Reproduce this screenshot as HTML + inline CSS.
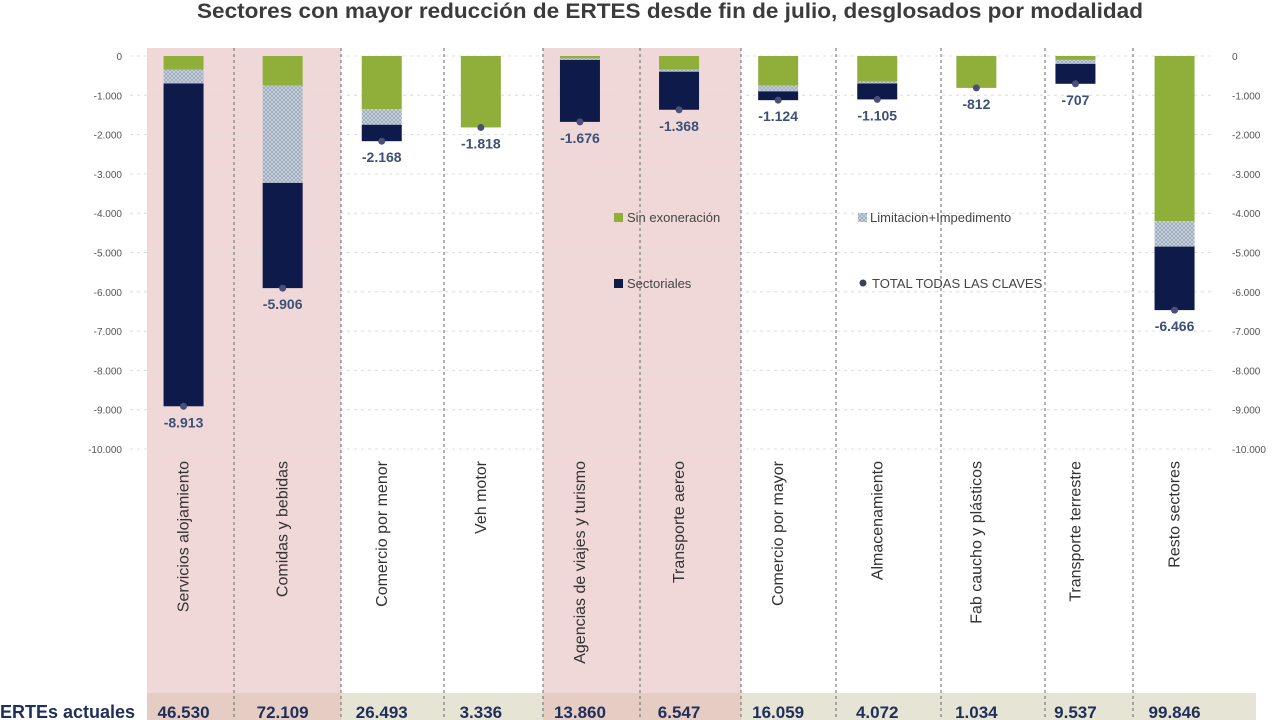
<!DOCTYPE html>
<html><head><meta charset="utf-8"><style>
html,body{margin:0;padding:0;background:#fff;width:1280px;height:720px;overflow:hidden;font-family:"Liberation Sans",sans-serif}
</style></head><body>
<svg id="chart" width="1280" height="720" xmlns="http://www.w3.org/2000/svg">
<defs>
<pattern id="hatch" width="4" height="4" patternUnits="userSpaceOnUse">
<rect width="4" height="4" fill="#c9d2dc"/>
<path d="M0,4 L4,0 M0,0 L4,4" stroke="#8a9bb0" stroke-width="0.6"/>
</pattern>
</defs>
<text x="197" y="18" textLength="946" lengthAdjust="spacingAndGlyphs" font-size="21" font-weight="bold" fill="#3b3b3b">Sectores con mayor reducción de ERTES desde fin de julio, desglosados por modalidad</text>
<g id="bg"></g><g id="grid"></g><g id="bars"></g><g id="labels"></g>
<g font-size="13" fill="#444">
<rect x="614" y="213" width="9" height="9" fill="#8faf3a"/>
<text x="627" y="222">Sin exoneración</text>
<rect x="858" y="213" width="9" height="9" fill="url(#hatch)"/>
<text x="870" y="222">Limitacion+Impedimento</text>
<rect x="614" y="279" width="9" height="9" fill="#0d1a4a"/>
<text x="627" y="288">Sectoriales</text>
<circle cx="863" cy="283" r="3.5" fill="#3a4060"/>
<text x="872" y="288">TOTAL TODAS LAS CLAVES</text>
</g>
<text x="0" y="718" font-size="18" font-weight="bold" fill="#1f2f5a">ERTEs actuales</text>
</svg>
<script>
const categories=["Servicios alojamiento","Comidas y bebidas","Comercio por menor","Veh motor","Agencias de viajes y turismo","Transporte aereo","Comercio por mayor","Almacenamiento","Fab caucho y plásticos","Transporte terrestre","Resto sectores"];
const sinExoneracion=[-350,-750,-1350,-1818,-60,-350,-750,-650,-812,-100,-4200];
const limitacion=[-350,-2480,-400,0,-40,-50,-150,-50,0,-100,-650];
const sectoriales=[-8213,-2676,-418,0,-1576,-968,-224,-405,0,-507,-1616];
const totals=[-8913,-5906,-2168,-1818,-1676,-1368,-1124,-1105,-812,-707,-6466];
const totalLabels=["-8.913","-5.906","-2.168","-1.818","-1.676","-1.368","-1.124","-1.105","-812","-707","-6.466"];
const ertesActuales=["46.530","72.109","26.493","3.336","13.860","6.547","16.059","4.072","1.034","9.537","99.846"];
const yTicks=[0,-1000,-2000,-3000,-4000,-5000,-6000,-7000,-8000,-9000,-10000];
const yTickLabels=["0","-1.000","-2.000","-3.000","-4.000","-5.000","-6.000","-7.000","-8.000","-9.000","-10.000"];

const NS="http://www.w3.org/2000/svg";
const y0=56,yScale=393/10000;
function y(v){return y0-v*yScale;}
const bandStart=134,bandW=99.1;
function xc(i){return bandStart+bandW*(i+0.5);}
function mk(tag,attrs,parent){const e=document.createElementNS(NS,tag);for(const k in attrs)e.setAttribute(k,attrs[k]);parent.appendChild(e);return e;}
const bg=document.getElementById('bg'),grid=document.getElementById('grid'),bars=document.getElementById('bars'),labels=document.getElementById('labels');

let r=mk('rect',{x:147,y:48,width:194,height:672,fill:'#f0d8d8'},bg);


r=mk('rect',{x:543,y:48,width:198,height:672,fill:'#f0d8d8'},bg);


r=mk('rect',{x:147,y:693,width:1109,height:27,fill:'#e6e4d4'},bg);


r=mk('rect',{x:147,y:693,width:194,height:27,fill:'#e6cdc4'},bg);


r=mk('rect',{x:543,y:693,width:198,height:27,fill:'#e6cdc4'},bg);



yTicks.forEach((t,i)=>{
  const l=mk('line',{x1:130,x2:1215,y1:y(t),y2:y(t),stroke:'#dcdcdc','stroke-width':1,'stroke-dasharray':'3,4'},grid);
  
  
  const a=mk('text',{x:122,y:y(t)+4,'text-anchor':'end','font-size':10,fill:'#555'},grid);a.textContent=yTickLabels[i];
  
  
  const b=mk('text',{x:1232,y:y(t)+4,'font-size':10,fill:'#555'},grid);b.textContent=yTickLabels[i];
  
  
});
[234,341,444,543,640,741,836,941,1045,1133].forEach(px=>{
  const l=mk('line',{x1:px,x2:px,y1:48,y2:720,stroke:'#666','stroke-width':1,'stroke-dasharray':'3,3'},grid);
  
  
});

const bw=40;
categories.forEach((c,i)=>{
  const x=xc(i)-bw/2;
  let top=0;
  const segs=[[sinExoneracion[i],'#8faf3a','segment-sin-exoneracion'],[limitacion[i],'url(#hatch)','segment-limitacion'],[sectoriales[i],'#0d1a4a','segment-sectoriales']];
  segs.forEach(s=>{
    const bot=top+s[0];
    if(s[0]!==0){
      const e=mk('rect',{x:x,y:y(top),width:bw,height:y(bot)-y(top),fill:s[1]},bars);
      
      
    }
    top=bot;
  });
  const d=mk('circle',{cx:xc(i),cy:y(totals[i]),r:3.5,fill:'#4a4f78'},bars);
  
  
  const t=mk('text',{x:xc(i),y:y(totals[i])+21,'text-anchor':'middle','font-size':14,'font-weight':'bold',fill:'#3d5078'},labels);
  t.textContent=totalLabels[i];
  
  
  const cl=mk('text',{x:0,y:0,'text-anchor':'end','font-size':16,fill:'#333',transform:`translate(${xc(i)+5},461) rotate(-90)`},labels);
  cl.textContent=c;
  
  
  const ev=mk('text',{x:xc(i),y:718,'text-anchor':'middle','font-size':17,'font-weight':'bold',fill:'#1f2f5a'},labels);
  ev.textContent=ertesActuales[i];
  
  
});
</script>
</body></html>
